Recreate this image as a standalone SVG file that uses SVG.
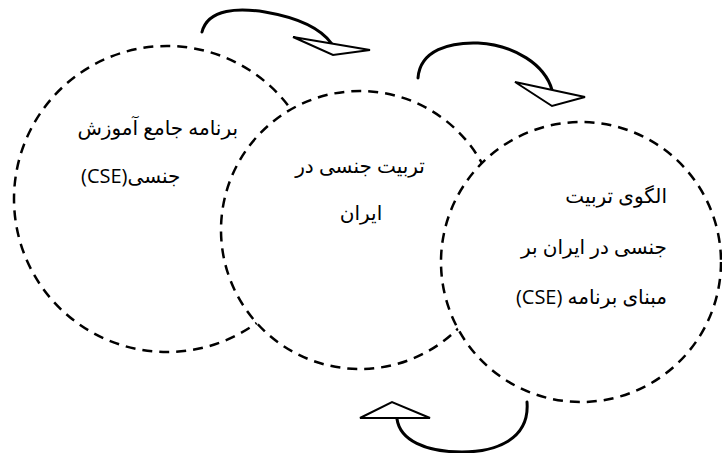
<svg xmlns="http://www.w3.org/2000/svg" width="722" height="453" viewBox="0 0 722 453">
<style>
.c{fill:#fff;stroke:#000;stroke-width:2.5;stroke-dasharray:10 7}
.t{font-family:"Open Sans","DejaVu Sans",sans-serif;font-size:20px;fill:#000}
.a{fill:none;stroke:#000;stroke-width:3;stroke-linecap:round}
.h{fill:#fff;stroke:#000;stroke-width:2;stroke-linejoin:miter}
</style>
<rect width="722" height="453" fill="#fff"/>
<g id="node-cse">
<circle class="c" cx="167" cy="199" r="153"/>
<text class="t" x="238" y="135" direction="rtl" text-anchor="start">برنامه جامع آموزش</text>
<text class="t" x="81" y="183" direction="rtl" text-anchor="end">جنسی(CSE)</text>
</g>
<g id="node-iran">
<circle class="c" cx="360" cy="230" r="139"/>
<text class="t" x="360" y="173" direction="rtl" text-anchor="middle">تربیت جنسی در</text>
<text class="t" x="361" y="220" direction="rtl" text-anchor="middle">ایران</text>
</g>
<g id="node-model">
<circle class="c" cx="581" cy="262" r="140"/>
<text class="t" x="667" y="203" direction="rtl" text-anchor="start">الگوی تربیت</text>
<text class="t" x="667" y="254" direction="rtl" text-anchor="start">جنسی در ایران بر</text>
<text class="t" x="667" y="304" direction="rtl" text-anchor="start">مبنای برنامه (CSE)</text>
</g>
<g id="connectors">
<path class="a" d="M202,32 C208,8 240,8 265,12 C300,18 322,30 332,44"/>
<polygon class="h" points="293,37 370,50 333,55"/>
<path class="a" d="M418,78 C420,50 450,42 478,43 C515,45 545,65 552,90"/>
<polygon class="h" points="515,82 585,97 552,106"/>
<path class="a" d="M527,402 C530,440 495,452 462,452 C425,452 400,440 397,419"/>
<polygon class="h" points="360,418 392,402 430,418"/>
</g>
</svg>
